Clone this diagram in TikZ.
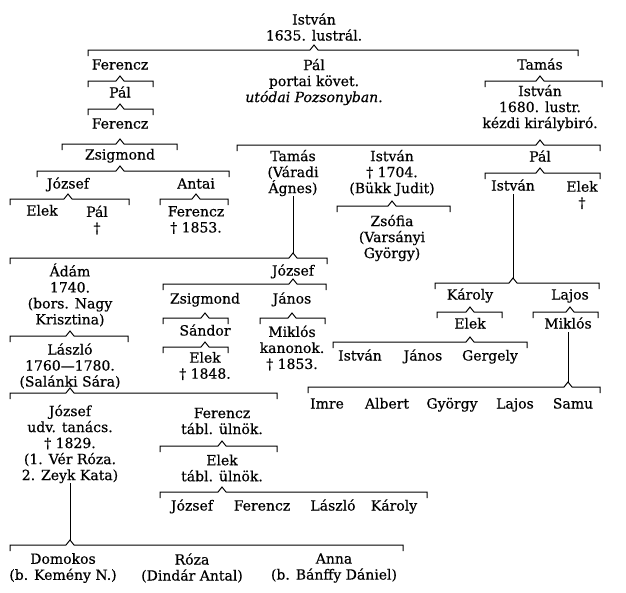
\documentclass[tikz,border=0pt]{standalone}
\usepackage{fontspec}
\setmainfont{DejaVu Serif}[FakeBold=0.5]
\usepackage{tikz}
\usetikzlibrary{calc}

\newcommand{\kinbar}[4]{\draw [kinLine] (#3,#2+6) -- (#3,#2) -- ($(#1 |- 0,#2)+(-4,0)$) -- ++(4,-5) -- ++(4,5) -- (#4,#2) -- (#4,#2+6);}

\begin{document}
\begin{tikzpicture}[x=1pt, y=-1pt,
    every node/.style={font=\fontsize{14}{16}\selectfont, align=center, inner sep=0pt},
    kinName/.style={text height=10.5pt, text depth=3.5pt},
    kinLine/.style={line width=1pt, line join=miter}
]
    \useasboundingbox (0,0) rectangle (626,592);

    \node (istvan0) at (314, 27) {István\\1635. lustrál.};
    \kinbar{istvan0}{50}{88}{578}

    \node [kinName] (ferencz1) at (120, 66) {Ferencz};
    \node (pal1) at (314, 82) {Pál\\portai követ.\\\textit{utódai Pozsonyban.}};
    \node [kinName] (tamas1) at (540, 66) {Tamás};

    \kinbar{ferencz1}{81}{88}{153}
    \node [kinName] (pal2) at (120, 94) {Pál};
    \kinbar{pal2}{109}{88}{153}
    \node [kinName] (ferencz2) at (120, 125) {Ferencz};
    \kinbar{ferencz2}{144}{62}{177}
    \node [kinName] (zsigmond1) at (120, 156) {Zsigmond};
    \kinbar{zsigmond1}{171}{37}{229}
    \node [kinName] (jozsef1) at (68, 185) {József};
    \node [kinName] (antal) at (196, 185) {Antai};
    \kinbar{jozsef1}{199}{10}{129}
    \node [kinName] (elek1) at (42, 212) {Elek};
    \node (pal3) at (97, 220) {Pál\\†};
    \kinbar{antal}{199}{160}{228}
    \node (ferencz3) at (196, 220) {Ferencz\\† 1853.};

    \kinbar{tamas1}{81}{485}{602}
    \node (istvan1) at (540, 108) {István\\1680. lustr.\\kézdi királybiró.};
    \kinbar{istvan1}{145}{237}{600}
    \node (tamas2) at (293, 173) {Tamás\\(Váradi\\Ágnes)};
    \node (istvan2) at (392, 173) {István\\† 1704.\\(Bükk Judit)};
    \node [kinName] (pal4) at (540, 158) {Pál};
    \kinbar{istvan2}{206}{337}{450}
    \node (zsofia) at (392, 238) {Zsófia\\(Varsányi\\György)};
    \kinbar{pal4}{173}{485}{600}
    \node [kinName] (istvan3) at (513, 187) {István};
    \node (elek2) at (582, 195) {Elek\\†};

    \draw [kinLine] (tamas2.south) -- (tamas2.south |- 0,253);
    \kinbar{tamas2}{258}{10}{327}
    \node (adam) at (70, 295) {Ádám\\1740.\\(bors. Nagy\\Krisztina)};
    \node [kinName] (jozsef2) at (293, 272) {József};

    \kinbar{adam}{336}{10}{128}
    \node (laszlo1) at (70, 366) {László\\1760—1780.\\(Salánki Sára)};
    \kinbar{laszlo1}{393}{10}{277}
    \node (jozsef3) at (70, 444) {József\\udv. tanács.\\† 1829.\\(1. Vér Róza.\\2. Zeyk Kata)};
    \node (ferencz4) at (222, 421) {Ferencz\\tábl. ülnök.};
    \kinbar{ferencz4}{446}{160}{277}
    \node (elek4) at (222, 468) {Elek\\tábl. ülnök.};
    \kinbar{elek4}{492}{160}{427}
    \node [kinName] (jozsef4) at (192, 507) {József};
    \node [kinName] (ferencz5) at (262, 507) {Ferencz};
    \node [kinName] (laszlo2) at (333, 507) {László};
    \node [kinName] (karoly2) at (394, 507) {Károly};

    \draw [kinLine] (jozsef3.south) -- (jozsef3.south |- 0,540);
    \kinbar{jozsef3}{545}{10}{403}
    \node (domokos) at (63, 568) {Domokos\\(b. Kemény N.)};
    \node (roza) at (192, 568) {Róza\\(Dindár Antal)};
    \node (anna) at (334, 568) {Anna\\(b. Bánffy Dániel)};

    \kinbar{jozsef2}{284}{163}{326}
    \node [kinName] (zsigmond2) at (205, 300) {Zsigmond};
    \node [kinName] (janos1) at (292, 300) {János};
    \kinbar{zsigmond2}{318}{163}{228}
    \node [kinName] (sandor) at (205, 332) {Sándor};
    \kinbar{sandor}{347}{163}{228}
    \node (elek3) at (205, 366) {Elek\\† 1848.};
    \kinbar{janos1}{318}{260}{325}
    \node (miklos1) at (292, 348) {Miklós\\kanonok.\\† 1853.};

    \draw [kinLine] (istvan3.south) -- (istvan3.south |- 0,278);
    \kinbar{istvan3}{283}{435}{599}
    \node [kinName] (karoly1) at (470, 296) {Károly};
    \node [kinName] (lajos1) at (570, 296) {Lajos};
    \kinbar{karoly1}{312}{437}{502}
    \node [kinName] (elek5) at (470, 325) {Elek};
    \kinbar{elek5}{342}{333}{527}
    \node [kinName] (istvan5) at (360, 357) {István};
    \node [kinName] (janos2) at (423, 357) {János};
    \node [kinName] (gergely) at (490, 357) {Gergely};
    \kinbar{lajos1}{312}{533}{598}
    \node [kinName] (miklos2) at (568, 325) {Miklós};
    \draw [kinLine] (miklos2.south) -- (miklos2.south |- 0,382);
    \kinbar{miklos2}{387}{308}{600}
    \node [kinName] (imre) at (327, 405) {Imre};
    \node [kinName] (albert) at (387, 405) {Albert};
    \node [kinName] (gyorgy) at (452, 405) {György};
    \node [kinName] (lajos2) at (515, 405) {Lajos};
    \node [kinName] (samu) at (573, 405) {Samu};
\end{tikzpicture}
\end{document}
